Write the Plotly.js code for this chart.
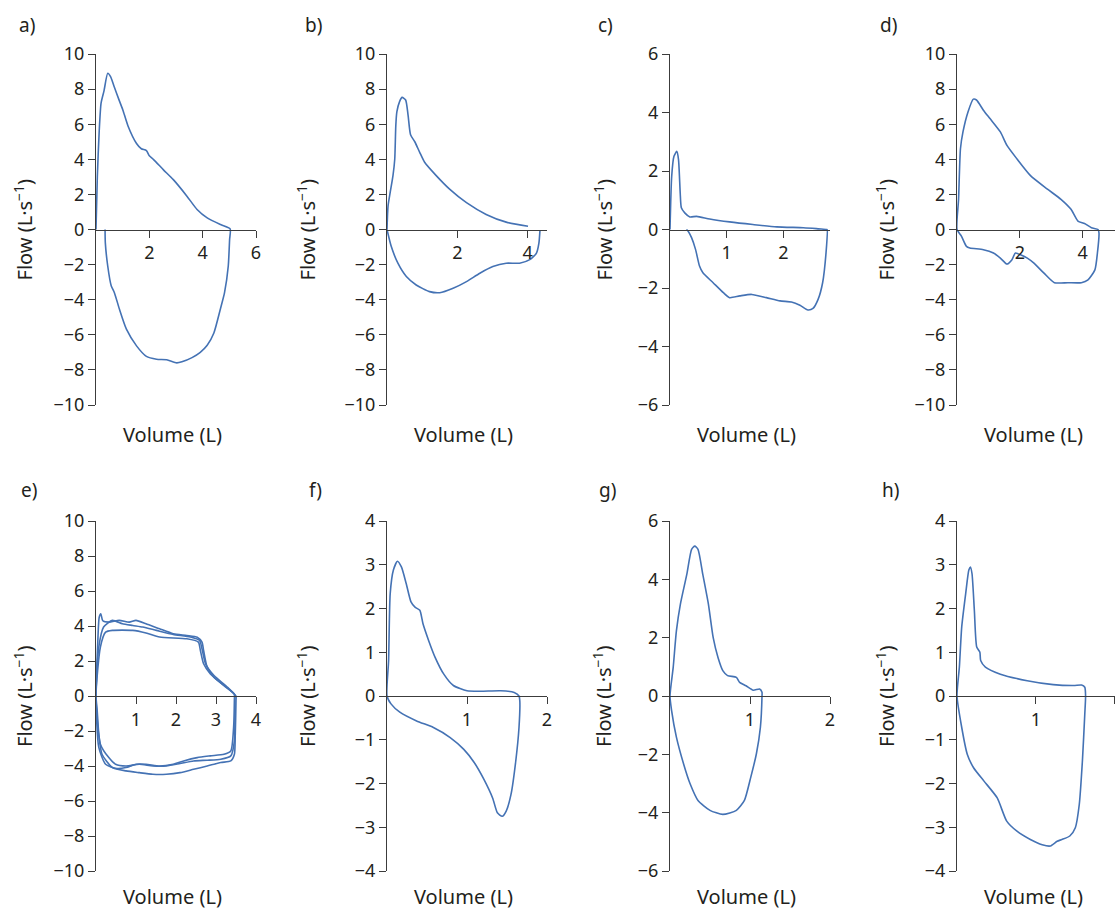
<!DOCTYPE html>
<html><head><meta charset="utf-8">
<script src="https://cdn.plot.ly/plotly-3.0.1.min.js"></script>
<style>body{margin:0;background:#fff}#chart{width:1115px;height:912px}</style>
</head><body><div id="chart"></div>
<script>
// ---------- data (Volume in L, Flow in L/s) ----------
const panelLabels = ['a)','b)','c)','d)','e)','f)','g)','h)'];
const xTitle = 'Volume (L)';
const yTitle = 'Flow (L·s<sup>−1</sup>)';

const aVol  = [0,0.05,0.12,0.19,0.3,0.44,0.55,0.69,0.86,1.01,1.2,1.52,1.7,1.89,2.0,2.15,2.53,2.9,3.41,3.79,4.17,4.67,5.03,5.01,4.96,4.82,4.67,4.42,4.17,3.91,3.6,3.22,3.03,2.65,2.27,1.89,1.52,1.14,0.88,0.69,0.57,0.44,0.35,0.34];
const aFlow = [0,3.0,5.6,7.2,7.9,8.9,8.7,8.1,7.4,6.8,5.9,4.9,4.6,4.5,4.2,4.0,3.4,2.84,1.9,1.14,0.66,0.28,0.04,-0.57,-2.08,-3.6,-4.5,-5.9,-6.6,-7.0,-7.3,-7.54,-7.6,-7.42,-7.39,-7.23,-6.63,-5.68,-4.55,-3.6,-3.2,-2.08,-0.76,0];

const bExpVol   = [0,0.03,0.09,0.17,0.22,0.25,0.28,0.36,0.43,0.53,0.6,0.67,0.79,0.93,1.07,1.4,1.78,2.26,2.82,3.39,4.01];
const bExpFlow  = [0,1.34,2.1,3.07,4.0,5.9,6.7,7.3,7.53,7.38,6.5,5.4,5.0,4.4,3.83,3.07,2.3,1.53,0.86,0.42,0.19];
const bInspVol  = [4.35,4.32,4.25,4.06,3.77,3.39,3.01,2.64,2.26,1.88,1.5,1.21,0.83,0.55,0.31,0.12,0];
const bInspFlow = [-0.05,-0.77,-1.34,-1.72,-1.92,-1.92,-2.11,-2.49,-2.97,-3.35,-3.6,-3.54,-3.16,-2.68,-1.92,-0.96,0];

const cVol  = [0,0.03,0.07,0.12,0.15,0.18,0.2,0.26,0.35,0.47,0.7,1.05,1.46,1.88,2.35,2.58,2.76,2.77,2.75,2.69,2.61,2.52,2.43,2.29,2.14,1.94,1.7,1.44,1.23,1.05,0.94,0.76,0.58,0.52,0.45,0.38,0.32,0.29];
const cFlow = [0,1.82,2.5,2.67,2.39,1.25,0.74,0.57,0.43,0.45,0.36,0.26,0.17,0.09,0.06,0.03,0,0,-0.8,-1.82,-2.39,-2.7,-2.75,-2.59,-2.48,-2.44,-2.33,-2.22,-2.27,-2.33,-2.16,-1.82,-1.48,-1.25,-0.68,-0.28,-0.06,0];

const dVol  = [0,0.05,0.11,0.19,0.35,0.52,0.62,0.84,1.05,1.38,1.59,1.91,2.34,2.88,3.31,3.63,3.85,4.06,4.28,4.49,4.52,4.47,4.39,4.17,3.96,3.53,3.1,2.77,2.45,2.24,2.02,1.86,1.75,1.59,1.38,1.16,0.84,0.41,0.3,0.14,0];
const dFlow = [0,1.72,4.6,5.56,6.7,7.43,7.38,6.8,6.32,5.56,4.79,4.02,3.07,2.3,1.72,1.15,0.48,0.34,0.1,0,-0.19,-1.34,-2.3,-2.87,-3.03,-3.03,-3.03,-2.49,-1.92,-1.63,-1.44,-1.34,-1.72,-1.97,-1.63,-1.34,-1.15,-1.05,-0.96,-0.38,0];

const e1Vol  = [0,0.04,0.08,0.12,0.17,0.32,0.58,0.83,1.0,1.25,1.59,1.93,2.27,2.53,2.65,2.69,2.78,2.95,3.2,3.42,3.5,3.5,3.48,3.46,3.37,3.12,2.78,2.44,2.1,1.76,1.42,1.08,0.75,0.41,0.15,0.07,0.03,0];
const e1Flow = [0,2.8,4.5,4.7,4.3,4.22,4.32,4.22,4.32,4.13,3.84,3.56,3.46,3.36,3.08,2.6,1.64,1.07,0.6,0.2,0,-0.27,-2.37,-3.33,-3.71,-3.8,-4.0,-4.19,-4.38,-4.47,-4.47,-4.38,-4.28,-4.09,-3.33,-2.18,-0.84,0];
const e2Vol  = [0,0.07,0.19,0.41,0.66,0.92,1.17,1.51,1.93,2.36,2.59,2.65,2.74,2.95,3.29,3.46,3.46,3.44,3.37,3.2,2.86,2.53,2.19,1.93,1.59,1.25,1.0,0.75,0.49,0.24,0.07,0];
const e2Flow = [0,2.8,3.94,4.32,4.13,4.03,3.94,3.75,3.52,3.37,3.17,2.7,1.84,1.17,0.5,0.1,-0.17,-1.8,-3.14,-3.33,-3.42,-3.52,-3.71,-3.9,-4.0,-3.9,-3.9,-4.09,-4.13,-3.9,-2.94,0];
const e3Vol  = [0,0.11,0.24,0.41,0.92,1.25,1.59,2.27,2.56,2.61,2.69,2.86,3.2,3.46,3.47,3.46,3.37,3.12,2.78,2.44,2.1,1.76,1.42,1.08,0.75,0.49,0.32,0.11,0];
const e3Flow = [0,2.8,3.65,3.75,3.75,3.6,3.37,3.27,3.08,2.6,1.84,1.26,0.59,0.1,-0.27,-2.56,-3.42,-3.61,-3.67,-3.71,-3.86,-4.0,-4.0,-3.9,-4.0,-3.9,-3.52,-2.75,0];

const fVol  = [0,0.02,0.04,0.08,0.13,0.18,0.24,0.3,0.35,0.41,0.45,0.52,0.6,0.71,0.83,1.0,1.17,1.42,1.59,1.65,1.66,1.65,1.61,1.55,1.49,1.44,1.38,1.32,1.21,1.09,0.96,0.79,0.58,0.37,0.16,0.05,0];
const fFlow = [0,0.81,2.34,2.88,3.08,2.95,2.57,2.15,2.03,1.96,1.65,1.27,0.89,0.5,0.24,0.12,0.11,0.12,0.08,0,-0.11,-0.72,-1.48,-2.25,-2.63,-2.75,-2.67,-2.33,-1.9,-1.52,-1.22,-0.95,-0.72,-0.57,-0.37,-0.18,0];

const gVol  = [0,0.04,0.08,0.13,0.21,0.27,0.31,0.35,0.41,0.48,0.54,0.6,0.66,0.72,0.83,0.87,0.95,1.04,1.12,1.15,1.15,1.13,1.08,1.01,0.93,0.83,0.66,0.5,0.35,0.25,0.17,0.08,0.02,0];
const gFlow = [0,0.98,2.23,3.15,4.17,5.03,5.14,5.03,4.17,3.15,2.0,1.32,0.87,0.7,0.64,0.47,0.35,0.2,0.24,0.13,0,-1.07,-1.98,-2.78,-3.58,-3.92,-4.06,-3.92,-3.58,-3.0,-2.33,-1.41,-0.5,0];

const hVol  = [0,0.03,0.06,0.11,0.15,0.17,0.19,0.22,0.25,0.29,0.3,0.36,0.55,0.89,1.22,1.48,1.58,1.62,1.63,1.62,1.59,1.55,1.5,1.43,1.33,1.27,1.18,1.08,0.93,0.76,0.63,0.51,0.34,0.21,0.13,0.06,0];
const hFlow = [0,0.66,1.58,2.34,2.88,2.95,2.8,1.96,1.12,1.0,0.81,0.66,0.5,0.35,0.26,0.24,0.25,0.2,0,-0.41,-1.48,-2.48,-3.01,-3.2,-3.28,-3.32,-3.43,-3.4,-3.28,-3.09,-2.86,-2.33,-1.94,-1.64,-1.33,-0.72,0];

// axis settings per panel
const xRanges = [[0,6],[0,4.55],[0,2.82],[0,5.03],[0,4],[0,2],[0,2],[0,2.003]];
const xTicks  = [[2,4,6],[2,4],[1,2],[2,4],[1,2,3,4],[1,2],[1,2],[1,2]];
const yMax    = [10,10,6,10,10,4,6,4];
const yStep   = [2,2,2,2,2,1,2,1];

const curves = [
  [[aVol,aFlow]],
  [[bExpVol,bExpFlow],[bInspVol,bInspFlow]],
  [[cVol,cFlow]],
  [[dVol,dFlow]],
  [[e1Vol,e1Flow],[e2Vol,e2Flow],[e3Vol,e3Flow]],
  [[fVol,fFlow]],
  [[gVol,gFlow]],
  [[hVol,hFlow]]
];

// ---------- layout geometry ----------
const W = 1115, H = 912;
const colLeft = [96, 387, 670, 957];
const plotW = 160;
const rowTB = [[54, 405], [521, 871]];
const labelPos = [[27,25],[313,25],[605,25],[888,25],[29,490],[315,490],[607,490],[890,490]];
const yTitleX = [23,306,603,885,23,306,602,885];
const xTitleY = [434, 896];

const FONT = 'Noto Sans, Open Sans, sans-serif';
const TXT = '#231f20';
const AX = '#3c3c3c';
const LINE = '#4472b4';

const data = [];
const layout = {
  width: W, height: H,
  margin: {l:0, r:0, t:0, b:0},
  paper_bgcolor: '#fff', plot_bgcolor: 'rgba(0,0,0,0)',
  showlegend: false,
  font: {family: FONT, size: 18, color: TXT},
  annotations: []
};

for (let i = 0; i < 8; i++) {
  const n = i === 0 ? '' : String(i + 1);
  const col = i % 4, row = Math.floor(i / 4);
  const x0 = colLeft[col], x1 = Math.min(W, x0 + plotW);
  const [yt, yb] = rowTB[row];
  const yd = [1 - yb / H, 1 - yt / H];
  curves[i].forEach(([vx, vy]) => {
    data.push({
      type: 'scatter', mode: 'lines', x: vx, y: vy,
      xaxis: 'x' + n, yaxis: 'y' + n,
      line: {color: LINE, width: 1.6, shape: 'spline', smoothing: 0.6},
      hoverinfo: 'skip'
    });
  });
  layout['xaxis' + n] = {
    domain: [x0 / W, x1 / W], range: xRanges[i],
    anchor: 'free', position: (yd[0] + yd[1]) / 2,
    tickmode: 'array', tickvals: xTicks[i],
    ticks: 'outside', ticklen: 7, tickwidth: 1, tickcolor: AX,
    showline: true, linecolor: AX, linewidth: 1,
    showgrid: false, zeroline: false,
    tickfont: {family: FONT, size: 18, color: TXT}
  };
  layout['yaxis' + n] = {
    domain: yd, range: [-yMax[i], yMax[i]],
    anchor: 'x' + n, tick0: 0, dtick: yStep[i],
    ticks: 'outside', ticklen: 7, tickwidth: 1, tickcolor: AX,
    showline: true, linecolor: AX, linewidth: 1,
    showgrid: false, zeroline: false,
    tickfont: {family: FONT, size: 18, color: TXT}
  };
  // y-axis title (rotated)
  layout.annotations.push({
    xref: 'paper', yref: 'paper',
    x: yTitleX[i] / W, y: (yd[0] + yd[1]) / 2,
    xanchor: 'center', yanchor: 'middle', showarrow: false, textangle: -90,
    text: yTitle, font: {family: FONT, size: 20, color: TXT}
  });
  // x-axis title
  layout.annotations.push({
    xref: 'paper', yref: 'paper',
    x: (x0 + plotW / 2 - 4) / W, y: 1 - xTitleY[row] / H,
    xanchor: 'center', yanchor: 'middle', showarrow: false,
    text: xTitle, font: {family: FONT, size: 20, color: TXT}
  });
  // panel label
  layout.annotations.push({
    xref: 'paper', yref: 'paper',
    x: labelPos[i][0] / W, y: 1 - labelPos[i][1] / H,
    xanchor: 'center', yanchor: 'middle', showarrow: false,
    text: panelLabels[i], font: {family: FONT, size: 19, color: TXT}
  });
}

Plotly.newPlot('chart', data, layout, {displayModeBar: false, staticPlot: true});
</script>
</body></html>
